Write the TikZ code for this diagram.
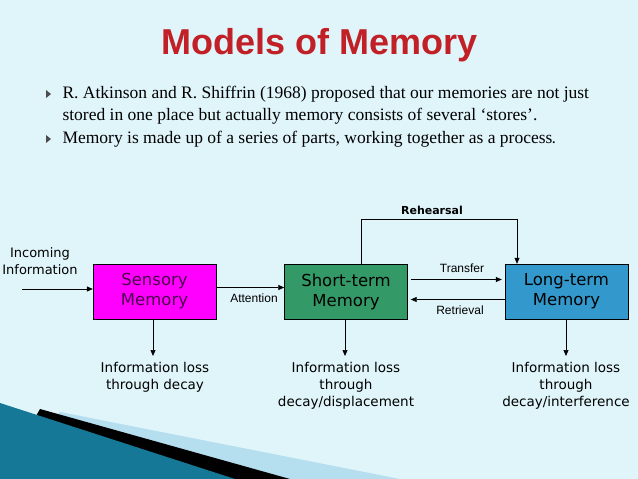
\documentclass[tikz,border=0pt]{standalone}
\usepackage{fontspec}
\setmainfont{Liberation Serif}
\newfontfamily\verdana{DejaVu Sans}
\newfontfamily\arial{Liberation Sans}
\usetikzlibrary{arrows.meta}
\definecolor{bgcyan}{RGB}{224,245,250}
\definecolor{titlered}{RGB}{192,32,38}
\definecolor{sensory}{RGB}{255,0,255}
\definecolor{shortterm}{RGB}{51,153,102}
\definecolor{longterm}{RGB}{51,153,204}
\definecolor{teal}{RGB}{20,120,150}
\tikzset{
  membox/.style={draw=black, minimum width=123pt, minimum height=55pt, align=center, font=\verdana\fontsize{16.5}{20}\selectfont},
  losstext/.style={align=center, font=\verdana\fontsize{13.5}{17}\selectfont},
  arrlabel/.style={font=\arial\fontsize{12}{14}\selectfont},
  flow/.style={-{Triangle[length=6pt,width=5pt]}, line width=0.7pt}
}
\begin{document}
\begin{tikzpicture}[x=1pt,y=1pt,yscale=-1]
\fill[bgcyan] (0,0) rectangle (638,479);
\useasboundingbox (0,0) rectangle (638,479);

% corner decoration
\fill[longterm!25!bgcyan] (60,412) -- (400,479) -- (0,479) -- cycle;
\fill[black] (40,409) -- (290,479) -- (0,479) -- cycle;
\fill[teal] (0,403) -- (235,479) -- (0,479) -- cycle;

% title
\node (title) [text=titlered, font=\arial\bfseries\fontsize{36}{40}\selectfont] at (320,45) {Models of Memory};

% bullets
\foreach \yy in {94,139} \fill[black!70] (46,\yy-4) -- (51,\yy) -- (46,\yy+4) -- cycle;
\node (line1) [anchor=west, font=\fontsize{17.5}{20}\selectfont] at (59,94) {R. Atkinson and R. Shiffrin (1968) proposed that our memories are not just};
\node (line2) [anchor=west, font=\fontsize{17.5}{20}\selectfont] at (59,116) {stored in one place but actually memory consists of several ‘stores’.};
\node (line3) [anchor=west, font=\fontsize{17.5}{20}\selectfont] at (59,139) {Memory is made up of a series of parts, working together as a process\textbf{\large.}};

% stores
\node (sensory) [membox, fill=sensory, text=black!70!sensory] at (154.5,291.5) {Sensory\\Memory};
\node (short) [membox, fill=shortterm, text=black] at (346,291.5) {Short-term\\Memory};
\node (long) [membox, fill=longterm, text=black] at (566.5,291.5) {Long-term\\Memory};

% incoming
\node (incoming) [align=center, font=\verdana\fontsize{13}{17}\selectfont] at (40,261) {Incoming\\Information};
\coordinate (inStart) at (22,289);
\draw[flow] (inStart) -- (sensory.west |- inStart);

% attention
\draw[flow] ([yshift=-4pt]sensory.east) -- ([yshift=-4pt]short.west);
\node (attention) [arrlabel] at (254,298) {Attention};

% transfer and retrieval
\draw[flow] ([yshift=-12pt]short.east) ++(3,0) -- ([yshift=-12pt,xshift=-3pt]long.west);
\node (transfer) [arrlabel] at (462,268) {Transfer};
\draw[flow] ([yshift=8pt]long.west) -- ([yshift=8pt,xshift=3pt]short.east);
\node (retrieval) [arrlabel] at (460,310) {Retrieval};

% rehearsal loop
\coordinate (rehA) at (361,219);
\coordinate (rehB) at (517,219);
\draw[line width=0.6pt] (short.north -| rehA) -- (rehA) -- (rehB);
\draw[flow, line width=0.6pt] (rehB) -- (long.north -| rehB);
\node (rehearsal) [font=\verdana\bfseries\fontsize{11}{13}\selectfont] at (432,210) {Rehearsal};

% information loss
\node (lossS) [losstext, anchor=north] at (155,359) {Information loss\\through decay};
\node (lossST) [losstext, anchor=north] at (346,359) {Information loss\\through\\decay/displacement};
\node (lossLT) [losstext, anchor=north] at (566,359) {Information loss\\through\\decay/interference};
\draw[flow] (sensory.south -| 153,0) -- (153,356);
\draw[flow] (short.south -| 345,0) -- (345,356);
\draw[flow] (long.south -| 566,0) -- (566,356);
\end{tikzpicture}
\end{document}
